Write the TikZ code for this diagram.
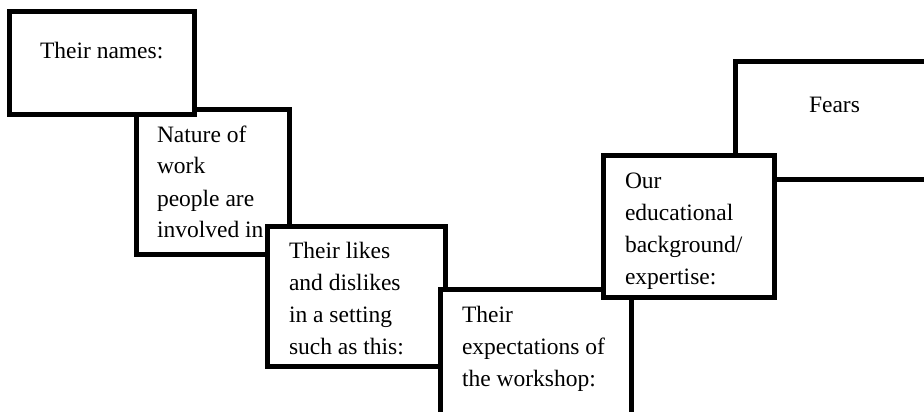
\documentclass[tikz,border=0pt]{standalone}
\usepackage{fontspec}
\setmainfont{Liberation Serif}
\begin{document}
\begin{tikzpicture}[x=1pt,y=-1pt,
  boxshape/.style={draw=black, fill=white, line width=5pt},
  lbl/.style={anchor=base west, inner sep=0pt, outer sep=0pt}]
\useasboundingbox (0,0) rectangle (924,412);
\clip (0,0) rectangle (924,412);
\newcommand{\boxtext}[1]{\parbox[t]{220pt}{\fontsize{23.5}{32}\selectfont #1}}
% box 2
\filldraw[boxshape] (136,109.5) rectangle (289,254.5);
\node[lbl] (t2) at (157,142) {\boxtext{Nature of\\work\\people are\\involved in}};
% box 1
\filldraw[boxshape] (9.5,12) rectangle (194,114.5);
\node[lbl] (t1) at (40,59) {\boxtext{Their names:}};
% box 3
\filldraw[boxshape] (267.5,226.5) rectangle (445.5,366.5);
\node[lbl] (t3) at (289,258) {\boxtext{Their likes\\and dislikes\\in a setting\\such as this:}};
% box 4
\filldraw[boxshape] (440,289) rectangle (631.5,440);
\node[lbl] (t4) at (462,322) {\boxtext{Their\\expectations of\\the workshop:}};
% box 6
\filldraw[boxshape] (735.5,62) rectangle (950,179);
\node[lbl] (t6) at (809,113) {\boxtext{Fears}};
% box 5
\filldraw[boxshape] (603.5,155.5) rectangle (774,297.5);
\node[lbl] (t5) at (625,188) {\boxtext{Our\\educational\\background/\\expertise:}};
\end{tikzpicture}
\end{document}
